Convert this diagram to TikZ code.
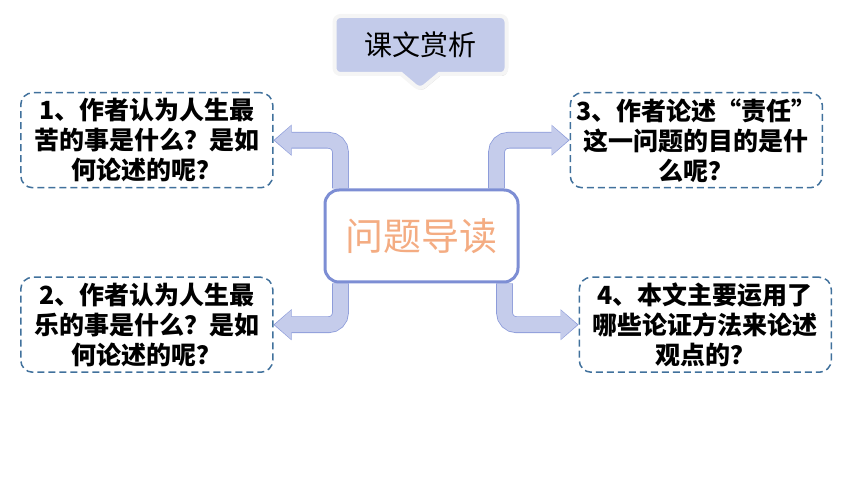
\documentclass[tikz,border=0pt]{standalone}
\usepackage{fontspec}
\usepackage{xcolor}
\usepackage{tikz}
\usetikzlibrary{positioning, arrows.meta, shapes.callouts, shadows, backgrounds}
\newfontfamily\cjk{Noto Sans CJK SC}
\definecolor{flowfill}{RGB}{197,204,235}
\definecolor{flowline}{RGB}{141,156,218}
\definecolor{hubline}{RGB}{125,142,212}
\definecolor{hubtext}{RGB}{244,172,130}
\definecolor{qline}{RGB}{65,113,156}
\definecolor{headfill}{RGB}{195,203,234}

\begin{document}
\begin{tikzpicture}[
    x=1pt, y=1pt,
    question/.style={
        draw=qline,
        dash pattern=on 7pt off 4pt,
        line width=1.5pt,
        rounded corners=12pt,
        align=center,
        font=\cjk\bfseries\fontsize{25}{30}\selectfont,
        minimum width=252pt,
        minimum height=95pt,
        inner sep=0pt
    },
    hub/.style={draw=hubline, line width=3pt, rounded corners=14pt, fill=white,
        minimum width=193pt, minimum height=92pt, text=hubtext,
        font=\cjk\fontsize{38}{40}\selectfont},
    heading/.style={rectangle callout, callout absolute pointer={(420,394)},
        callout pointer width=38pt, fill=headfill, draw=white!92!gray,
        line width=4pt, rounded corners=6pt, minimum width=172pt,
        minimum height=58pt, font=\cjk\fontsize{28}{30}\selectfont,
        drop shadow={shadow xshift=1pt, shadow yshift=-2pt, opacity=0.3}},
    flowedge/.style={draw=flowline, line width=16.6pt, rounded corners=12pt,
        -{Triangle[length=18pt, width=31pt, line width=0pt]}},
    flowbody/.style={draw=flowfill, line width=15pt, rounded corners=12pt,
        shorten >=1.3pt, -{Triangle[length=16pt, width=28.4pt, line width=0pt]}}
]
\useasboundingbox (0,0) rectangle (860,484);

%  Heading 
\node[heading] (head) at (420.5,439) {课文赏析};

%  Centre node 
\node[hub] (topic) at (421.5,248) {问题导读};

%  Questions 
\node[question] (q1) [above left=0pt and 50pt of topic] {1、作者认为人生最\\苦的事是什么？是如\\何论述的呢？};
\node[question] (q2) [below left=-7pt and 50pt of topic] {2、作者认为人生最\\乐的事是什么？是如\\何论述的呢？};
\node[question] (q3) [above right=0pt and 50pt of topic] {3、作者论述“责任”\\这一问题的目的是什\\么呢？};
\node[question] (q4) [below right=-7pt and 59pt of topic] {4、本文主要运用了\\哪些论证方法来论述\\观点的？};

%  Arrows 
\coordinate (a1) at ([xshift=17pt]topic.north west);
\coordinate (a2) at ([xshift=17pt]topic.south west);
\coordinate (a3) at ([xshift=-23pt]topic.north east);
\coordinate (a4) at ([xshift=-15pt]topic.south east);
\begin{scope}[on background layer]
\foreach \from/\to in {a1/q1.east, a2/q2.east, a3/q3.west, a4/q4.west}{
    \draw[flowedge] (\from) |- (\to);
    \draw[flowbody] (\from) |- (\to);
}
\end{scope}

\end{tikzpicture}
\end{document}
